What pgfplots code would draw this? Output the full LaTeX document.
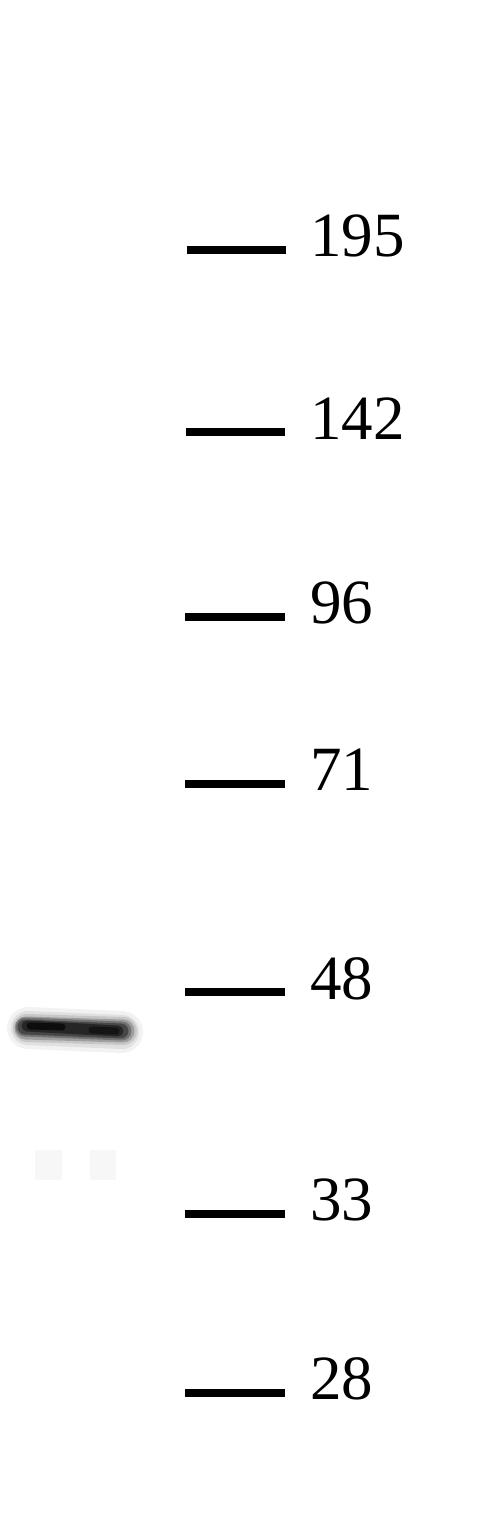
\documentclass[border=0pt]{standalone}
\usepackage{pgfplots}
\pgfplotsset{compat=1.18}
\usepackage{fontspec}
\setmainfont{Liberation Serif}
\begin{document}
\begin{tikzpicture}
  \begin{axis}[
      scale only axis,
      width=492pt, height=1520pt,
      xmin=0, xmax=492, ymin=0, ymax=1520,
      y dir=reverse,
      hide axis,
      clip=false,
    ]
    % page frame (invisible, keeps the full picture size)
    \addplot[draw=none, forget plot] coordinates {(0,0) (492,1520)};
    % band (blurred look: stacked layers from halo to core)
    \addplot[draw=black!5, line width=42pt, line cap=round] coordinates {(28,1028) (122,1032)};
    \addplot[draw=black!12, line width=34pt, line cap=round] coordinates {(28,1028) (122,1032)};
    \addplot[draw=black!22, line width=28pt, line cap=round] coordinates {(27,1028) (123,1031)};
    \addplot[draw=black!38, line width=23pt, line cap=round] coordinates {(26,1028) (123,1031)};
    \addplot[draw=black!55, line width=19pt, line cap=round] coordinates {(25,1027) (122,1031)};
    \addplot[draw=black!72, line width=15pt, line cap=round] coordinates {(25,1027) (121,1031)};
    \addplot[draw=black!85, line width=11pt, line cap=round] coordinates {(27,1026) (118,1031)};
    \addplot[draw=black!95, line width=7pt, line cap=round] coordinates {(30,1026) (62,1027)};
    \addplot[draw=black!92, line width=7pt, line cap=round] coordinates {(92,1030) (116,1031)};
    % faint smudges
    \addplot[draw=black!3, line width=30pt] coordinates {(35,1165) (62,1165)};
    \addplot[draw=black!3, line width=30pt] coordinates {(90,1165) (116,1165)};
    % marker lines
    \addplot[black, line width=8pt] coordinates {(187,250) (286,250)};
    \addplot[black, line width=8pt] coordinates {(186,432) (285,432)};
    \addplot[black, line width=8pt] coordinates {(185,617) (285,617)};
    \addplot[black, line width=8pt] coordinates {(185,784) (285,784)};
    \addplot[black, line width=8pt] coordinates {(185,992) (285,992)};
    \addplot[black, line width=8pt] coordinates {(185,1214) (285,1214)};
    \addplot[black, line width=8pt] coordinates {(185,1393) (285,1393)};
    % marker labels
    \addplot[only marks, mark=none,
      nodes near coords, point meta=explicit symbolic,
      every node near coord/.style={anchor=base west, inner sep=0pt,
        font=\fontsize{63}{70}\selectfont, black}]
      table[meta=label] {
        x   y    label
        310 256  195
        310 439  142
        310 623  96
        310 790  71
        310 999  48
        310 1220 33
        310 1399 28
      };
  \end{axis}
\end{tikzpicture}
\end{document}
